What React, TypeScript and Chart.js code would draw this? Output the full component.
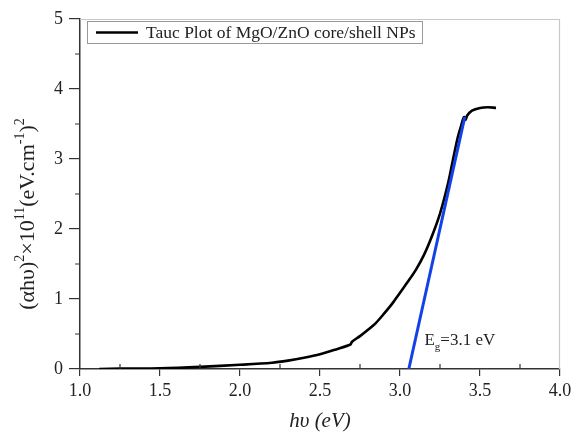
import React, { useEffect, useRef } from "react";
import { Chart, registerables } from "chart.js";

Chart.register(...registerables);

// Tauc curve (photon energy in eV, (αhυ)² ×10¹¹)
const energy = [1.12, 1.25, 1.5, 1.75, 2.0, 2.2, 2.3, 2.4, 2.5, 2.6, 2.69, 2.7, 2.75, 2.8, 2.85, 2.9, 2.95, 3.0, 3.05, 3.1, 3.15, 3.2, 3.25, 3.3, 3.33, 3.36, 3.38, 3.4, 3.41, 3.42, 3.45, 3.5, 3.55, 3.6];
const tauc = [0.0, 0.005, 0.01, 0.03, 0.06, 0.09, 0.12, 0.16, 0.21, 0.28, 0.35, 0.39, 0.47, 0.56, 0.66, 0.79, 0.93, 1.09, 1.25, 1.42, 1.63, 1.9, 2.22, 2.65, 2.98, 3.3, 3.46, 3.6, 3.56, 3.62, 3.69, 3.73, 3.74, 3.73];

// Linear fit (band-gap extrapolation)
const fitEnergy = [3.055, 3.405];
const fitValue = [0, 3.6];

const xTickValues = [1.0, 1.5, 2.0, 2.5, 3.0, 3.5, 4.0];
const yTickValues = [0, 1, 2, 3, 4, 5];

const legendLabel = "Tauc Plot of MgO/ZnO core/shell NPs";
const gapAnnotation = { energy: 3.153, value: 0.343, main: "E", sub: "g", rest: "=3.1 eV" };

const SERIF = '"Liberation Serif", "Times New Roman", Times, serif';
const BLUE = "#1242e6";

const decorPlugin = {
  id: "decor",
  afterDraw(chart: any) {
    const ctx = chart.ctx as CanvasRenderingContext2D;
    const { left, right, top, bottom } = chart.chartArea;
    const xs = chart.scales.x;
    const ys = chart.scales.y;
    ctx.save();

    // light frame top & right
    ctx.strokeStyle = "#c8c8c8";
    ctx.lineWidth = 1.2;
    ctx.beginPath();
    ctx.moveTo(left, top + 0.5);
    ctx.lineTo(right - 0.5, top + 0.5);
    ctx.lineTo(right - 0.5, bottom);
    ctx.stroke();

    // minor ticks
    ctx.strokeStyle = "#333";
    ctx.lineWidth = 1.2;
    ctx.beginPath();
    for (let i = 0; i < xTickValues.length - 1; i++) {
      const v = (xTickValues[i] + xTickValues[i + 1]) / 2;
      const px = xs.getPixelForValue(v);
      ctx.moveTo(px, bottom);
      ctx.lineTo(px, bottom - 5);
    }
    for (let i = 0; i < yTickValues.length - 1; i++) {
      const v = (yTickValues[i] + yTickValues[i + 1]) / 2;
      const py = ys.getPixelForValue(v);
      ctx.moveTo(left, py);
      ctx.lineTo(left - 5, py);
    }
    ctx.stroke();

    // legend box
    const lx = 87, ly = 21, lw = 335, lh = 22;
    ctx.fillStyle = "#fff";
    ctx.fillRect(lx, ly, lw, lh);
    ctx.strokeStyle = "#9a9a9a";
    ctx.lineWidth = 1;
    ctx.strokeRect(lx + 0.5, ly + 0.5, lw, lh);
    ctx.strokeStyle = "#000";
    ctx.lineWidth = 2.6;
    ctx.beginPath();
    ctx.moveTo(96, ly + lh / 2 + 0.5);
    ctx.lineTo(138, ly + lh / 2 + 0.5);
    ctx.stroke();
    ctx.fillStyle = "#222";
    ctx.font = `17.5px ${SERIF}`;
    ctx.textBaseline = "middle";
    ctx.textAlign = "left";
    ctx.fillText(legendLabel, 146, ly + lh / 2 + 1);

    // Eg annotation
    const ax = xs.getPixelForValue(gapAnnotation.energy);
    const ay = ys.getPixelForValue(gapAnnotation.value);
    ctx.textBaseline = "alphabetic";
    ctx.font = `17px ${SERIF}`;
    ctx.fillText(gapAnnotation.main, ax, ay);
    let w = ctx.measureText(gapAnnotation.main).width;
    ctx.font = `11px ${SERIF}`;
    ctx.fillText(gapAnnotation.sub, ax + w, ay + 5);
    w += ctx.measureText(gapAnnotation.sub).width;
    ctx.font = `17px ${SERIF}`;
    ctx.fillText(gapAnnotation.rest, ax + w, ay);

    // x title
    ctx.font = `italic 21px ${SERIF}`;
    ctx.textAlign = "center";
    ctx.fillStyle = "#222";
    ctx.fillText("h\u03C5 (eV)", (left + right) / 2, 427);

    // y title with superscripts
    const segs = [
      { t: "(\u03B1h\u03C5)", s: false },
      { t: "2", s: true },
      { t: "\u00D710", s: false },
      { t: "11", s: true },
      { t: "(eV.cm", s: false },
      { t: "-1", s: true },
      { t: ")", s: false },
      { t: "2", s: true },
    ];
    const big = `22px ${SERIF}`;
    const small = `14px ${SERIF}`;
    let total = 0;
    for (const sg of segs) {
      ctx.font = sg.s ? small : big;
      total += ctx.measureText(sg.t).width;
    }
    ctx.translate(34, 214);
    ctx.rotate(-Math.PI / 2);
    ctx.textAlign = "left";
    let cx = -total / 2;
    for (const sg of segs) {
      ctx.font = sg.s ? small : big;
      ctx.fillText(sg.t, cx, sg.s ? -10 : 0);
      cx += ctx.measureText(sg.t).width;
    }
    ctx.restore();
  },
};

export default function App() {
  const ref = useRef<HTMLCanvasElement | null>(null);

  useEffect(() => {
    document.body.style.margin = "0";
    const canvas = ref.current;
    if (!canvas) return;
    const curve = energy.map((e, i) => ({ x: e, y: tauc[i] }));
    const fit = fitEnergy.map((e, i) => ({ x: e, y: fitValue[i] }));
    const chart = new Chart(canvas, {
      type: "scatter",
      data: {
        datasets: [
          {
            label: "Linear fit",
            data: fit,
            showLine: true,
            borderColor: BLUE,
            borderWidth: 3,
            pointRadius: 0,
            order: 0,
          },
          {
            label: legendLabel,
            data: curve,
            showLine: true,
            borderColor: "#000",
            borderWidth: 2.6,
            pointRadius: 0,
            tension: 0.3,
            order: 1,
          },
        ],
      },
      options: {
        responsive: false,
        animation: false,
        layout: { padding: { top: 19, right: 12, left: 0, bottom: 0 } },
        plugins: { legend: { display: false }, tooltip: { enabled: false } },
        scales: {
          x: {
            type: "linear",
            min: 1,
            max: 4,
            afterFit: (s: any) => {
              s.height = 64;
              s.paddingLeft = 0;
              s.paddingRight = 0;
            },
            ticks: {
              stepSize: 0.5,
              callback: (v: any) => Number(v).toFixed(1),
              font: { family: SERIF, size: 18 },
              color: "#222",
              padding: 4,
              maxRotation: 0,
            },
            grid: { drawOnChartArea: false, drawTicks: true, tickLength: 7, color: "#333", lineWidth: 1.2 },
            border: { color: "#333", width: 1.5 },
          },
          y: {
            type: "linear",
            min: 0,
            max: 5,
            afterFit: (s: any) => {
              s.width = 80;
              s.paddingTop = 0;
              s.paddingBottom = 0;
            },
            ticks: {
              stepSize: 1,
              font: { family: SERIF, size: 18 },
              color: "#222",
              padding: 6,
            },
            grid: { drawOnChartArea: false, drawTicks: true, tickLength: 11, color: "#333", lineWidth: 1.2 },
            border: { color: "#333", width: 1.5 },
          },
        },
      },
      plugins: [decorPlugin],
    });
    return () => chart.destroy();
  }, []);

  return (
    <div style={{ width: 572, height: 433 }}>
      <canvas ref={ref} width={572} height={433} style={{ display: "block" }} />
    </div>
  );
}
